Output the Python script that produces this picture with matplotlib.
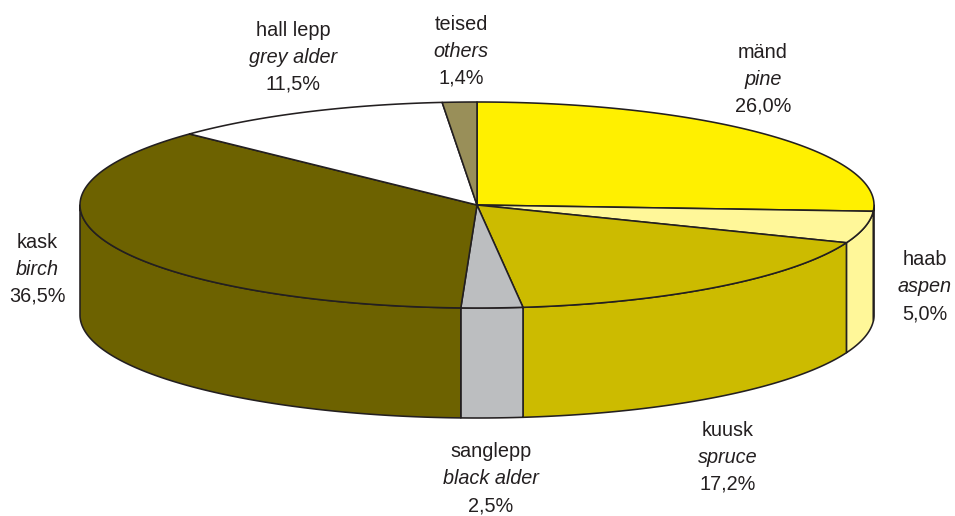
import numpy as np
import matplotlib
matplotlib.use("Agg")
import matplotlib.pyplot as plt
from matplotlib.patches import Polygon

names_et = ["mänd", "haab", "kuusk", "sanglepp", "kask", "hall lepp", "teised"]
names_en = ["pine", "aspen", "spruce", "black alder", "birch", "grey alder", "others"]
shares = [26.0, 5.0, 17.2, 2.5, 36.5, 11.5, 1.4]
colors = ["#FFF000", "#FFF799", "#CCBB00", "#BCBEC0", "#6D6200", "#FFFFFF", "#998F59"]
label_xy = [(763, 85), (925, 292), (728, 463), (491, 484), (37, 275), (293, 63), (461, 57)]

CX, CY, RX, RY, DEPTH = 477.0, 205.0, 397.0, 103.0, 110.0
EDGE = "#231f20"
LW = 1.15
FS = 14.3

def rim(a0, a1, n=200, dy=0.0):
    t = np.radians(np.linspace(a0, a1, n))
    return np.column_stack([CX + RX * np.sin(t), CY + dy - RY * np.cos(t)])

plt.rcParams["font.family"] = ["Liberation Sans", "DejaVu Sans"]
fig = plt.figure(figsize=(9.55, 5.16), dpi=100)
ax = fig.add_axes([0, 0, 1, 1])
ax.set_xlim(0, 955)
ax.set_ylim(516, 0)
ax.axis("off")

edges = np.concatenate([[0], np.cumsum(shares)]) / sum(shares) * 360
for i, col in enumerate(colors):
    a0, a1 = edges[i], edges[i + 1]
    lo, hi = max(a0, 90), min(a1, 270)
    if lo < hi:
        wall = np.vstack([rim(lo, hi), rim(lo, hi, dy=DEPTH)[::-1]])
        ax.add_patch(Polygon(wall, closed=True, fc=col, ec=EDGE, lw=LW, joinstyle="round"))
for i, col in enumerate(colors):
    a0, a1 = edges[i], edges[i + 1]
    top = np.vstack([[CX, CY], rim(a0, a1)])
    ax.add_patch(Polygon(top, closed=True, fc=col, ec=EDGE, lw=LW, joinstyle="round"))

for et, en, s, (x, y) in zip(names_et, names_en, shares, label_xy):
    ax.text(x, y - 27, et, ha="center", va="baseline", fontsize=FS, color="#231f20")
    ax.text(x, y, en, ha="center", va="baseline", fontsize=FS, style="italic", color="#231f20")
    ax.text(x, y + 27, f"{s:.1f}%".replace(".", ","), ha="center", va="baseline", fontsize=FS, color="#231f20")

fig.savefig("out.png", dpi=100)
